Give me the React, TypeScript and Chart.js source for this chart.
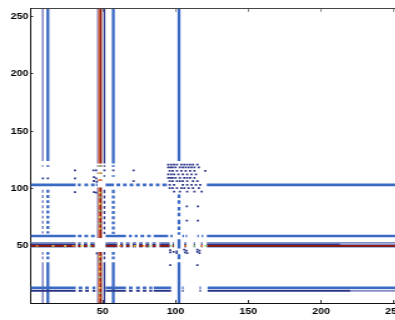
import React, { useEffect, useRef } from "react";
import { Chart, registerables } from "chart.js";

Chart.register(...registerables);

type Seg = [number, number];
type Pt = [number, number];

// ---------- axes ----------
const axisMin = 0.5;
const axisMax = 256.5;
const xTickValues = [50, 100, 150, 200, 250];
const yTickValues = [50, 100, 150, 200, 250];

// ---------- vertical hub columns (x = column index) ----------
const colNavyA = 8.9;
const colBlueA = 12.4;
const colLightRed = 46.6;
const colOrangeRed = 47.6;
const colDarkRed = 48.7;
const colNavyB = 51.2;
const colBlueB = 57.3;
const colBlueC = 102.4;

// row spans (y from, y to) for the columns
const colABRows: Seg[] = [
  [124, 256.5], [119, 120.3], [96.5, 99], [92, 94.5], [87.5, 90], [83, 85.5],
  [78.5, 81], [74, 76.5], [69.5, 72], [65, 67.5], [61, 63], [42.5, 45], [38.5, 41], [0.5, 36],
];
const redColRows: Seg[] = [
  [122, 256.5], [119, 120.3], [112.8, 114], [106.8, 108], [57, 101], [0.5, 45],
];
const colFGRows: Seg[] = [
  [122, 256.5], [119, 120.3], [110.5, 111.7], [96, 99], [91.5, 94], [87, 89.5],
  [82.5, 85], [78, 80.5], [73.5, 76], [69, 71.5], [64.5, 67], [60.5, 62.5],
  [42.5, 45], [38.5, 41], [0.5, 36],
];
const colHRows: Seg[] = [
  [124, 256.5], [92, 95], [87, 90], [81, 84], [76, 79], [69, 73], [64, 67],
  [60, 62], [48, 56], [38.5, 43], [0.5, 36],
];

// ---------- horizontal hub rows (y = row index) ----------
const rowBlue103 = 103.3;
const rowBlue59 = 58.8;
const rowLight53 = 52.9;
const rowNavy52 = 51.7;
const rowDarkRed50 = 50.2;
const rowLight49 = 49.0;
const rowBlue14 = 13.7;
const rowNavy11 = 11.1;

// column spans (x from, x to) for the rows
const row103Cols: Seg[] = [
  [0.5, 31.5], [33, 35], [37.5, 40], [42, 44.5], [45.5, 46.5], [52, 57.8], [59.5, 62],
  [64, 66.5], [68.5, 71], [73, 75.5], [77.5, 80], [82, 84.5], [86.5, 89], [91, 94],
  [121.5, 256.5],
];
const row59Cols: Seg[] = [
  [0.5, 31.5], [33, 35.5], [37.5, 40], [42, 44.5], [52, 66], [68, 70], [72, 74],
  [76, 78.5], [80.5, 83], [85, 95], [96.5, 98], [104.8, 105.8], [107, 108],
  [115, 116], [118, 119], [121.5, 256.5],
];
const row50Cols: Seg[] = [
  [0.5, 31.5], [33, 35], [37, 39.5], [41.5, 44.5], [52, 60], [62, 64], [66, 68.5],
  [70.5, 73], [75, 77.5], [79.5, 82], [84, 86.5], [89, 96], [98, 99], [106, 107.5],
  [112.5, 113.5], [117.5, 118.5], [121.5, 256.5],
];
const row50NavyCols: Seg[] = [
  [0.5, 31.5], [33, 35], [37, 39.5], [41.5, 44.5], [52, 60], [62, 64], [66, 68.5],
  [70.5, 73], [75, 77.5], [79.5, 82], [84, 86.5], [89, 96], [98, 99], [106, 107.5],
  [112.5, 113.5], [117.5, 118.5], [121.5, 213],
];
const row50PaleCols: Seg[] = [[213, 256.5]];
const row13Cols: Seg[] = [
  [0.5, 31.5], [33.5, 36], [38, 40.5], [43, 45], [52, 66], [68, 70.5], [73, 75.5],
  [77.5, 80], [82, 84], [85, 97], [104.5, 105.5], [116.5, 117.5], [122, 256.5],
];
const row11NavyCols: Seg[] = [
  [0.5, 31.5], [33.5, 36], [38, 40.5], [43, 45], [52, 66], [68, 70.5], [73, 75.5],
  [77.5, 80], [82, 84], [85, 97], [104.5, 105.5], [116.5, 117.5], [122, 220],
];
const row11PaleCols: Seg[] = [[220, 256.5]];

// ---------- single cells ----------
const yellowCells: Pt[] = [
  [48, 113.4], [48, 96.5], [48, 86.9], [48, 75.2], [48, 65.2], [48, 40.8], [48, 27.9],
  [48, 13.7], [16, 50.2], [24.3, 50.2], [35.7, 50.2], [72, 50.2],
];
const greenCells: Pt[] = [
  [48, 119.6], [48, 92.4], [48, 80.9], [48, 69.5], [48, 36.5], [48, 23.1], [48, 9.4],
  [41.4, 50.2], [82, 50.2], [97.5, 50.2], [113, 50.2], [120.9, 50.2],
];
const orangeCells: Pt[] = [
  [48, 107.4], [48, 32.2], [48, 18.5], [48, 5.1], [5, 50.2], [30, 50.2], [62, 50.2],
  [78, 50.2], [106.7, 50.2], [118.1, 50.2],
];
const navyCells: Pt[] = [
  [31, 116], [31, 109], [31, 97], [43.7, 116], [45.5, 116], [44, 110], [45.5, 109],
  [44, 106.7], [46, 106], [44, 97], [45.5, 96.5], [71.2, 116], [71.2, 106.5],
  [51.2, 116], [57.3, 116], [9, 109], [12.4, 109],
  // block near (95..121, 97..121)
  [95, 121], [97, 121], [99, 121], [101, 121], [104, 121], [106, 121], [108, 121], [110, 121], [112, 121], [115, 121],
  [95, 118.5], [96.5, 118.5], [98, 118.5], [100, 118.5], [103, 118.5], [105, 118.5], [107, 118.5], [109, 118.5], [111, 118.5], [113, 118.5], [116, 118.5],
  [96, 115.5], [98, 115.5], [101, 115.5], [104, 115.5], [107, 115.5], [110, 115.5], [113, 115.5], [120.5, 115.5],
  [95, 112.5], [97, 112.5], [99, 112.5], [102, 112.5], [105, 112.5], [108, 112.5], [111, 112.5], [114, 112.5],
  [95, 109.5], [96.5, 109.5], [98, 109.5], [100, 109.5], [103, 109.5], [106, 109.5], [108, 109.5], [110, 109.5], [113, 109.5],
  [96, 106.5], [98, 106.5], [101, 106.5], [103, 106.5], [105, 106.5], [108, 106.5], [112, 106.5], [115, 106.5],
  [96, 103.3], [99, 103.3], [105, 103.3], [108, 103.3], [111, 103.3], [114, 103.3], [117, 103.3],
  [96, 100.5], [98, 100.5], [101, 100.5], [104, 100.5], [106, 100.5], [109, 100.5], [112, 100.5], [116, 100.5],
  [99, 97.5], [103, 97.5], [108, 97.5], [113, 97.5], [118, 97.5],
  // lower scattered cells
  [107.8, 84.6], [115.4, 84.6], [107.8, 72.3], [115.4, 72.3],
  [96.4, 46.5], [96.4, 44.5], [98.7, 45], [100.9, 45.5], [100.9, 44], [106, 47], [107.5, 46],
  [106.5, 44.5], [108, 44], [115, 47], [116.5, 46], [115, 45], [116.5, 44],
  [96.4, 33.5], [115, 33.5], [46, 43.7],
];

// ---------- styles ----------
const NAVY = "#2a3587";
const BLUE = "#3a6ac3";
const PALE = "#8a8ec6";
const LIGHT_BLUE = "#86a6dc";
const ORANGE_RED = "#cc4a22";
const DARK_RED = "#8c1b14";
const YELLOW = "#e8d64a";
const GREEN = "#8fcf7c";
const ORANGE = "#ef8a2c";

const vLine = (x: number, segs: Seg[]) =>
  segs.flatMap(([a, b]) => [{ x, y: a }, { x, y: b }, { x, y: null }]);
const hLine = (y: number, segs: Seg[]) =>
  segs.flatMap(([a, b]) => [{ x: a, y }, { x: b, y }, { x: b, y: null }]);

const lineDs = (data: any[], color: string, width: number) => ({
  type: "line" as const,
  data,
  borderColor: color,
  borderWidth: width,
  pointRadius: 0,
  pointHoverRadius: 0,
  fill: false,
  tension: 0,
  spanGaps: false,
  borderCapStyle: "butt" as const,
});
const dotDs = (pts: Pt[], color: string) => ({
  type: "scatter" as const,
  data: pts.map(([x, y]) => ({ x, y })),
  pointStyle: "rect" as const,
  pointRadius: 1.25,
  pointHoverRadius: 1.25,
  backgroundColor: color,
  borderWidth: 0,
});

const FONT = { family: "'Liberation Sans', Arial, Helvetica, sans-serif", size: 8.5, weight: "bold" as const };

export default function App() {
  const ref = useRef<HTMLCanvasElement | null>(null);
  useEffect(() => {
    if (!ref.current) return;
    const setTicks = (vals: number[]) => (s: any) => {
      s.ticks = vals.map((v) => ({ value: v }));
    };
    const chart = new Chart(ref.current, {
      type: "scatter",
      data: {
        datasets: [
          dotDs(yellowCells, YELLOW),
          dotDs(greenCells, GREEN),
          dotDs(orangeCells, ORANGE),
          dotDs(navyCells, NAVY),
          lineDs(hLine(rowDarkRed50, row50Cols), DARK_RED, 2.0),
          lineDs(vLine(colOrangeRed, redColRows), ORANGE_RED, 1.3),
          lineDs(vLine(colDarkRed, redColRows), DARK_RED, 1.8),
          lineDs(vLine(colLightRed, redColRows), PALE, 1.3),
          lineDs(hLine(rowLight49, row50Cols), LIGHT_BLUE, 1.1),
          lineDs(hLine(rowNavy52, row50NavyCols), NAVY, 1.4),
          lineDs(hLine(rowNavy52, row50PaleCols), PALE, 1.4),
          lineDs(hLine(rowLight53, row50Cols), "#7e93cc", 1.4),
          lineDs(hLine(rowBlue103, row103Cols), BLUE, 2.9),
          lineDs(hLine(rowBlue59, row59Cols), BLUE, 2.6),
          lineDs(hLine(rowBlue14, row13Cols), BLUE, 2.5),
          lineDs(hLine(rowNavy11, row11NavyCols), NAVY, 1.9),
          lineDs(hLine(rowNavy11, row11PaleCols), PALE, 1.9),
          lineDs(vLine(colNavyA, colABRows), PALE, 1.6),
          lineDs(vLine(colBlueA, colABRows), BLUE, 2.3),
          lineDs(vLine(colNavyB, colFGRows), NAVY, 1.4),
          lineDs(vLine(colBlueB, colFGRows), BLUE, 2.3),
          lineDs(vLine(colBlueC, colHRows), BLUE, 2.3),
        ],
      },
      options: {
        animation: false,
        responsive: false,
        events: [],
        layout: { padding: { top: 6, left: 0.4, right: 7.6, bottom: 0 } },
        plugins: { legend: { display: false }, tooltip: { enabled: false } },
        scales: {
          x: {
            type: "linear",
            position: "bottom",
            min: axisMin,
            max: axisMax,
            afterBuildTicks: setTicks(xTickValues),
            afterFit: (s: any) => { s.height = 17; },
            grid: { drawOnChartArea: false, tickLength: -3, tickColor: "#333", tickWidth: 1 },
            border: { display: true, color: "#111", width: 1 },
            ticks: { font: FONT, color: "#000", padding: 6.2, maxRotation: 0, autoSkip: false },
          },
          x2: {
            type: "linear",
            position: "top",
            min: axisMin,
            max: axisMax,
            afterBuildTicks: setTicks(xTickValues),
            afterFit: (s: any) => { s.height = 0; },
            grid: { drawOnChartArea: false, tickLength: -3, tickColor: "#888", tickWidth: 1 },
            border: { display: true, color: "#444", width: 1 },
            ticks: { display: false },
          },
          y: {
            type: "linear",
            position: "left",
            min: axisMin,
            max: axisMax,
            afterBuildTicks: setTicks(yTickValues),
            afterFit: (s: any) => { s.width = 24; },
            grid: { drawOnChartArea: false, tickLength: -2.1, tickColor: "#333", tickWidth: 1 },
            border: { display: true, color: "#111", width: 1 },
            ticks: { font: FONT, color: "#000", padding: 3.8, autoSkip: false },
          },
        },
      },
    } as any);
    return () => chart.destroy();
  }, []);

  return (
    <div
      style={{
        position: "absolute",
        left: 0,
        top: 0,
        width: 395,
        height: 320,
        overflow: "hidden",
        background: "#fff",
      }}
    >
      <canvas
        ref={ref}
        width={330}
        height={320}
        style={{ width: "412.5px", height: "320px", display: "block" }}
      />
    </div>
  );
}
